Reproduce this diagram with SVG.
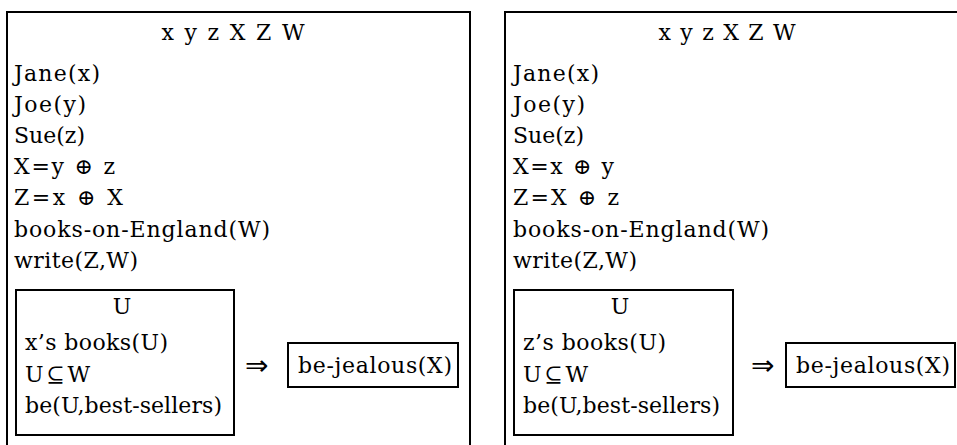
<svg xmlns="http://www.w3.org/2000/svg" width="957" height="445" viewBox="0 0 957 445">
<style>
text{font-family:"DejaVu Serif","Liberation Serif",serif;font-size:22px;fill:#000}
.box{fill:none;stroke:#000;stroke-width:2}
.c{text-anchor:middle}
.arr{font-family:"DejaVu Sans",sans-serif;font-size:28px}
</style>
<rect width="957" height="445" fill="#fff"/>
<g id="drs-left">
<path class="box" d="M7,446 V12 H470 V446"/>
<text class="c" x="233" y="40" textLength="143" lengthAdjust="spacing">x y z X Z W</text>
<text x="14" y="81" textLength="86" lengthAdjust="spacing">Jane(x)</text>
<text x="14" y="112" textLength="72" lengthAdjust="spacing">Joe(y)</text>
<text x="14" y="143" textLength="71" lengthAdjust="spacing">Sue(z)</text>
<text x="14" y="174" textLength="101" lengthAdjust="spacing">X=y ⊕ z</text>
<text x="14" y="205" textLength="109" lengthAdjust="spacing">Z=x ⊕ X</text>
<text x="14" y="237" textLength="256" lengthAdjust="spacing">books-on-England(W)</text>
<text x="14" y="268" textLength="124" lengthAdjust="spacing">write(Z,W)</text>
<g id="antecedent-left">
<rect class="box" x="16" y="290" width="218" height="145"/>
<text class="c" x="122" y="314">U</text>
<text x="25" y="350" textLength="143" lengthAdjust="spacing">x’s books(U)</text>
<text x="25" y="382" textLength="65" lengthAdjust="spacing">U⊆W</text>
<text x="25" y="413" textLength="197" lengthAdjust="spacing">be(U,best-sellers)</text>
</g>
<text class="arr" x="245" y="375">⇒</text>
<g id="consequent-left">
<rect class="box" x="288" y="343" width="170" height="44"/>
<text x="298" y="373" textLength="154" lengthAdjust="spacing">be-jealous(X)</text>
</g>
</g>
<g id="drs-right">
<path class="box" d="M505,446 V12 H960"/>
<text class="c" x="727" y="40" textLength="137" lengthAdjust="spacing">x y z X Z W</text>
<text x="513" y="81" textLength="86" lengthAdjust="spacing">Jane(x)</text>
<text x="513" y="112" textLength="72" lengthAdjust="spacing">Joe(y)</text>
<text x="513" y="143" textLength="71" lengthAdjust="spacing">Sue(z)</text>
<text x="513" y="174" textLength="101" lengthAdjust="spacing">X=x ⊕ y</text>
<text x="513" y="205" textLength="106" lengthAdjust="spacing">Z=X ⊕ z</text>
<text x="513" y="237" textLength="256" lengthAdjust="spacing">books-on-England(W)</text>
<text x="513" y="268" textLength="124" lengthAdjust="spacing">write(Z,W)</text>
<g id="antecedent-right">
<rect class="box" x="514" y="290" width="219" height="145"/>
<text class="c" x="620" y="314">U</text>
<text x="523" y="350" textLength="143" lengthAdjust="spacing">z’s books(U)</text>
<text x="523" y="382" textLength="65" lengthAdjust="spacing">U⊆W</text>
<text x="523" y="413" textLength="197" lengthAdjust="spacing">be(U,best-sellers)</text>
</g>
<text class="arr" x="751" y="375">⇒</text>
<g id="consequent-right">
<rect class="box" x="786" y="343" width="169" height="44"/>
<text x="796" y="373" textLength="154" lengthAdjust="spacing">be-jealous(X)</text>
</g>
</g>
<g id="connectors"/>
</svg>
